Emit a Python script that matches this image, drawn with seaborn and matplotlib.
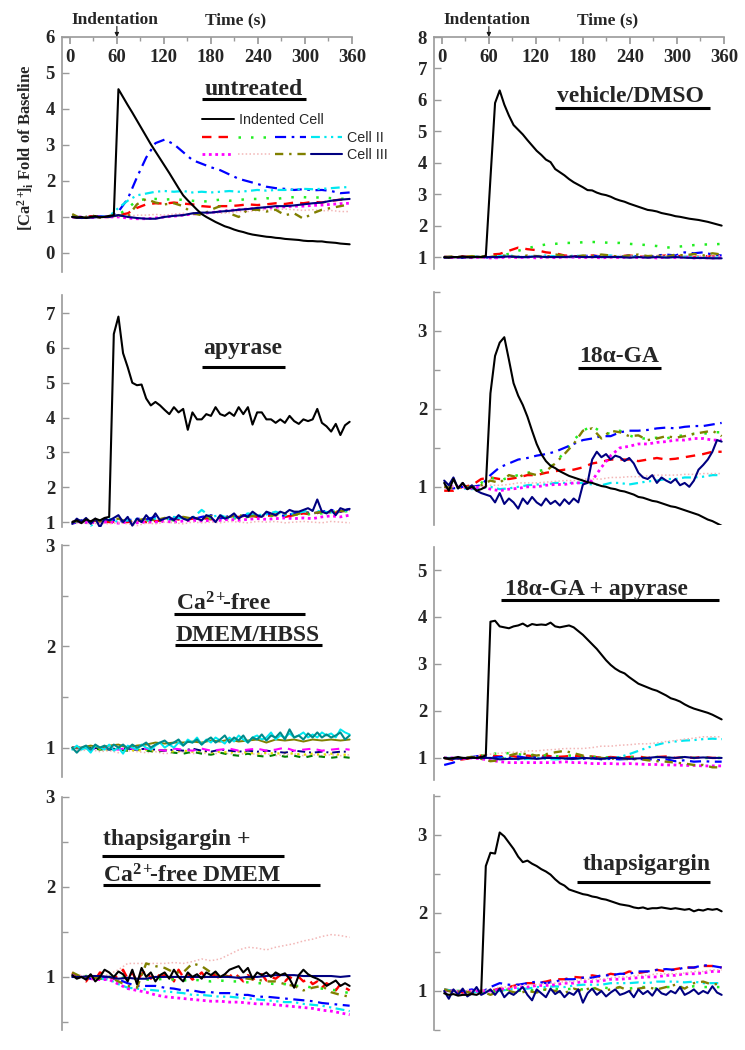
import numpy as np
import seaborn as sns
import matplotlib.pyplot as plt
from matplotlib.lines import Line2D
from matplotlib.legend_handler import HandlerTuple
from matplotlib.ticker import MultipleLocator

# ---- data: fold of baseline ----
# black / navy / noisy traces sampled every ~6 s (61 pts), others every ~12 s (31 pts)

untreated_black = [1.0, 0.98, 1.0, 0.97, 1.0, 1.02, 0.99, 1.0, 1.03, 1.05,
                   4.55, 4.33, 4.11, 3.9, 3.68, 3.46, 3.24, 3.02, 2.82, 2.62,
                   2.42, 2.22, 2.01, 1.80, 1.6, 1.46, 1.33, 1.2, 1.08, 1.0,
                   0.93, 0.86, 0.8, 0.74, 0.7, 0.65, 0.61, 0.58, 0.54, 0.51,
                   0.49, 0.47, 0.45, 0.44, 0.42, 0.41, 0.39, 0.38, 0.37, 0.36,
                   0.34, 0.33, 0.33, 0.32, 0.32, 0.3, 0.29, 0.28, 0.26, 0.25, 0.24]
untreated_red = [1.0, 0.98, 1.02, 1.0, 1.0, 1.05, 1.1, 1.25, 1.35, 1.38, 1.37, 1.4, 1.37, 1.35, 1.3, 1.28,
                 1.3, 1.3, 1.32, 1.35, 1.33, 1.35, 1.38, 1.36, 1.4, 1.38, 1.42, 1.4, 1.45, 1.48, 1.5]
untreated_green = [1.02, 1.0, 0.98, 1.0, 1.02, 1.05, 1.25, 1.45, 1.5, 1.5, 1.48, 1.5, 1.47, 1.45, 1.42, 1.45,
                   1.48, 1.45, 1.47, 1.5, 1.5, 1.52, 1.5, 1.53, 1.55, 1.55, 1.53, 1.55, 1.52, 1.5, 1.52]
untreated_blue = [1.0, 0.98, 1.0, 1.02, 1.0, 1.15, 1.5, 2.1, 2.65, 3.05, 3.15, 3.02, 2.8, 2.58, 2.48, 2.38,
                  2.3, 2.18, 2.06, 1.99, 1.92, 1.84, 1.8, 1.78, 1.75, 1.77, 1.74, 1.75, 1.72, 1.66, 1.68]
untreated_cyan = [1.0, 1.0, 1.0, 1.0, 1.02, 1.25, 1.45, 1.6, 1.65, 1.7, 1.72, 1.7, 1.72, 1.68, 1.7, 1.68,
                  1.7, 1.72, 1.7, 1.72, 1.75, 1.73, 1.75, 1.75, 1.76, 1.78, 1.77, 1.78, 1.8, 1.82, 1.83]
untreated_magenta = [1.0, 1.0, 0.98, 1.0, 1.0, 1.0, 0.97, 0.95, 0.95, 0.97, 1.0, 1.02, 1.05, 1.08, 1.1, 1.12,
                     1.15, 1.18, 1.2, 1.22, 1.24, 1.25, 1.27, 1.28, 1.3, 1.3, 1.32, 1.33, 1.35, 1.37, 1.38]
untreated_pink = [1.0, 1.0, 1.0, 0.98, 1.0, 1.02, 1.02, 1.05, 1.05, 1.07, 1.05, 1.08, 1.1, 1.08, 1.1, 1.12,
                  1.1, 1.12, 1.15, 1.15, 1.18, 1.2, 1.2, 1.22, 1.2, 1.18, 1.2, 1.17, 1.18, 1.15, 1.15]
untreated_olive = [1.08, 0.95, 1.05, 0.98, 1.0, 1.05, 1.0, 1.35, 1.5, 1.4, 1.35, 1.38, 1.3, 1.1, 1.05, 1.2,
                   1.3, 1.1, 1.0, 1.2, 1.2, 1.15, 1.2, 1.05, 1.1, 0.95, 1.1, 1.2, 1.25, 1.3, 1.35]
untreated_navy = [1.0, 0.97, 0.98, 1.0, 1.0, 1.05, 1.0, 0.97, 0.95, 0.95, 1.0, 1.03, 1.05, 1.1, 1.12, 1.12,
                  1.15, 1.17, 1.2, 1.22, 1.25, 1.27, 1.3, 1.3, 1.32, 1.35, 1.38, 1.4, 1.45, 1.48, 1.5]

vehicle_black = [1.0, 0.98, 1.0, 1.0, 1.02, 1.0, 0.99, 1.01, 1.0, 1.03,
                 3.5, 5.9, 6.3, 5.85, 5.5, 5.2, 5.05, 4.9, 4.72, 4.55,
                 4.38, 4.25, 4.1, 4.02, 3.8, 3.7, 3.6, 3.48, 3.38, 3.3,
                 3.22, 3.13, 3.12, 3.05, 3.0, 2.97, 2.92, 2.85, 2.8, 2.76,
                 2.7, 2.65, 2.6, 2.55, 2.5, 2.48, 2.45, 2.4, 2.37, 2.34,
                 2.3, 2.28, 2.25, 2.22, 2.2, 2.18, 2.15, 2.12, 2.08, 2.04, 2.0]
vehicle_red = [1.0, 1.0, 1.02, 1.0, 1.0, 1.08, 1.1, 1.2, 1.3, 1.25, 1.22, 1.15, 1.12, 1.05, 1.03, 1.02,
               1.05, 1.02, 1.0, 1.03, 1.05, 1.02, 1.0, 1.03, 1.05, 1.02, 1.05, 1.0, 1.03, 1.02, 1.0]
vehicle_green = [1.0, 0.98, 1.0, 1.0, 1.02, 1.0, 1.05, 1.1, 1.2, 1.28, 1.35, 1.4, 1.42, 1.45, 1.45, 1.47,
                 1.48, 1.47, 1.45, 1.45, 1.42, 1.4, 1.38, 1.35, 1.3, 1.32, 1.35, 1.38, 1.4, 1.4, 1.42]
vehicle_blue = [1.0, 1.0, 0.98, 1.0, 1.0, 0.98, 1.0, 1.02, 1.0, 1.0, 1.03, 1.0, 1.02, 1.0, 1.0, 1.03,
                1.05, 1.0, 1.02, 1.0, 1.05, 1.02, 1.0, 1.05, 1.08, 1.05, 1.15, 1.12, 1.15, 1.08, 1.05]
vehicle_cyan = [1.0, 1.0, 1.0, 1.02, 1.0, 1.0, 1.03, 1.05, 1.02, 1.0, 1.03, 1.05, 1.02, 1.0, 1.05, 1.03,
                1.0, 1.02, 1.05, 1.0, 1.02, 1.0, 1.0, 1.02, 1.0, 1.0, 1.02, 1.0, 1.0, 0.98, 1.0]
vehicle_magenta = [1.0, 0.98, 1.0, 0.98, 1.0, 0.97, 0.98, 1.0, 0.98, 1.0, 0.97, 1.0, 0.98, 1.0, 1.0, 0.98,
                   1.0, 0.97, 1.0, 0.98, 1.0, 0.98, 1.0, 0.97, 1.0, 0.98, 1.0, 0.97, 0.98, 0.97, 0.98]
vehicle_pink = [1.0, 1.0, 1.02, 1.0, 1.0, 1.02, 1.0, 1.02, 1.03, 1.0, 1.02, 1.03, 1.0, 1.02, 1.0, 1.03,
                1.02, 1.0, 1.03, 1.05, 1.02, 1.0, 1.03, 1.02, 1.05, 1.03, 1.05, 1.03, 1.05, 1.03, 1.05]
vehicle_olive = [1.0, 1.02, 1.0, 1.03, 1.0, 1.0, 1.05, 1.03, 1.0, 1.05, 1.03, 1.0, 1.08, 1.05, 1.0, 1.05,
                 1.03, 1.08, 1.05, 1.0, 1.05, 1.08, 1.03, 1.05, 1.0, 1.08, 1.05, 1.1, 1.05, 1.12, 1.08]
vehicle_navy = [0.98, 1.0, 0.98, 1.0, 1.0, 1.0, 1.0, 1.02, 1.0, 1.0, 1.02, 1.0, 1.0, 1.0, 1.02, 1.0,
                1.0, 1.0, 1.0, 1.0, 0.98, 1.0, 0.98, 1.0, 0.98, 1.0, 0.98, 0.97, 0.97, 0.96, 0.96]

apyrase_black = [1.0, 1.05, 0.97, 1.08, 1.02, 1.1, 1.05, 1.12, 1.15, 6.4,
                 6.9, 5.85, 5.45, 5.0, 4.93, 4.95, 4.55, 4.35, 4.45, 4.35,
                 4.22, 4.1, 4.3, 4.15, 4.25, 3.65, 4.15, 3.95, 3.95, 4.1,
                 4.05, 4.3, 4.1, 4.05, 4.15, 4.05, 4.3, 4.1, 4.3, 3.8,
                 4.15, 4.15, 3.95, 3.95, 3.85, 3.95, 3.85, 4.05, 3.9, 3.82,
                 3.95, 3.9, 3.95, 4.25, 3.85, 3.75, 3.6, 3.82, 3.5, 3.78, 3.88]
apyrase_red = [1.0, 1.05, 1.02, 1.05, 1.0, 1.02, 1.0, 1.05, 1.0, 1.03, 1.05, 1.1, 1.05, 1.1, 1.12, 1.08,
               1.15, 1.1, 1.15, 1.2, 1.15, 1.18, 1.2, 1.15, 1.2, 1.25, 1.22, 1.3, 1.25, 1.3, 1.35]
apyrase_green = [1.0, 1.03, 1.0, 1.02, 1.05, 1.0, 1.02, 1.0, 1.05, 1.03, 1.08, 1.05, 1.1, 1.08, 1.12, 1.1,
                 1.15, 1.12, 1.1, 1.15, 1.18, 1.15, 1.2, 1.18, 1.22, 1.2, 1.25, 1.25, 1.3, 1.3, 1.32]
apyrase_blue = [0.95, 1.05, 1.0, 1.05, 1.1, 1.02, 1.05, 1.1, 1.08, 1.15, 1.05, 1.1, 1.12, 1.08, 1.15, 1.2,
                1.1, 1.18, 1.15, 1.22, 1.15, 1.25, 1.2, 1.18, 1.25, 1.3, 1.25, 1.3, 1.35, 1.3, 1.38]
apyrase_cyan = [1.0, 1.05, 0.9, 1.05, 1.1, 1.0, 1.05, 1.08, 1.0, 1.1, 1.05, 1.15, 1.1, 1.12, 1.35, 1.15,
                1.2, 1.1, 1.15, 1.25, 1.2, 1.22, 1.3, 1.2, 1.25, 1.3, 1.35, 1.3, 1.28, 1.3, 1.35]
apyrase_magenta = [1.0, 1.0, 0.98, 1.0, 1.0, 0.97, 1.0, 0.98, 1.0, 1.0, 1.02, 1.0, 1.03, 1.05, 1.03, 1.05,
                   1.05, 1.08, 1.05, 1.08, 1.1, 1.08, 1.1, 1.12, 1.1, 1.12, 1.1, 1.15, 1.18, 1.15, 1.2]
apyrase_pink = [0.95, 0.98, 0.95, 0.97, 0.95, 0.98, 0.95, 0.9, 0.97, 0.95, 1.0, 0.98, 0.95, 1.0, 0.98, 1.0,
                0.98, 1.02, 1.0, 0.98, 1.02, 1.0, 1.02, 0.98, 1.0, 1.02, 1.0, 0.98, 1.02, 1.0, 0.98]
apyrase_olive = [1.0, 1.05, 1.08, 1.02, 1.05, 1.1, 1.0, 1.05, 1.1, 1.05, 1.12, 1.08, 1.15, 1.1, 1.12, 1.18,
                 1.12, 1.15, 1.2, 1.15, 1.2, 1.18, 1.22, 1.25, 1.2, 1.28, 1.25, 1.3, 1.28, 1.32, 1.3]
apyrase_navy = [0.95, 1.1, 1.0, 1.12, 0.95, 1.1, 0.85, 1.1, 1.05, 1.12,
                1.2, 1.0, 1.15, 0.9, 1.1, 1.0, 1.2, 1.05, 1.25, 1.05,
                1.1, 1.15, 1.05, 1.2, 1.1, 1.05, 1.15, 1.1, 1.05, 1.2,
                1.15, 1.0, 1.2, 1.1, 1.15, 1.25, 1.1, 1.2, 1.15, 1.3,
                1.2, 1.15, 1.3, 1.25, 1.2, 1.3, 1.25, 1.35, 1.3, 1.3,
                1.35, 1.4, 1.32, 1.65, 1.3, 1.25, 1.35, 1.2, 1.4, 1.35, 1.38]

ga_black = [1.05, 0.95, 1.1, 0.98, 1.05, 0.97, 1.0, 0.95, 0.97, 1.0,
            2.2, 2.68, 2.85, 2.92, 2.63, 2.33, 2.17, 2.05, 1.9, 1.72,
            1.55, 1.42, 1.33, 1.27, 1.24, 1.2, 1.17, 1.14, 1.12, 1.1,
            1.08, 1.06, 1.05, 1.03, 1.01, 1.0, 0.98, 0.97, 0.95, 0.94,
            0.92, 0.9, 0.87, 0.86, 0.84, 0.82, 0.81, 0.79, 0.77, 0.75,
            0.74, 0.72, 0.7, 0.68, 0.66, 0.64, 0.61, 0.58, 0.56, 0.53, 0.5]
ga_red = [0.95, 0.95, 1.0, 1.02, 1.1, 1.12, 1.1, 1.1, 1.12, 1.15, 1.15, 1.18, 1.2, 1.22, 1.22, 1.25,
          1.3, 1.32, 1.35, 1.35, 1.35, 1.33, 1.35, 1.37, 1.35, 1.36, 1.38, 1.4, 1.42, 1.45, 1.45]
ga_green = [1.0, 1.0, 0.98, 1.0, 1.05, 1.12, 1.08, 1.12, 1.15, 1.18, 1.2, 1.22, 1.3, 1.45, 1.6, 1.72,
            1.78, 1.7, 1.68, 1.72, 1.66, 1.62, 1.62, 1.63, 1.62, 1.65, 1.66, 1.68, 1.68, 1.7, 1.7]
ga_blue = [1.0, 0.98, 1.0, 1.0, 1.02, 1.15, 1.25, 1.3, 1.35, 1.37, 1.4, 1.42, 1.45, 1.5, 1.55, 1.6,
           1.62, 1.65, 1.65, 1.7, 1.72, 1.72, 1.73, 1.75, 1.76, 1.75, 1.77, 1.78, 1.78, 1.8, 1.82]
ga_cyan = [1.0, 1.0, 0.98, 0.97, 0.98, 1.0, 0.97, 0.98, 1.0, 1.02, 1.03, 1.03, 1.05, 1.05, 1.05, 1.05,
           1.03, 1.02, 1.05, 1.05, 1.03, 1.05, 1.07, 1.08, 1.1, 1.1, 1.12, 1.12, 1.13, 1.15, 1.15]
ga_magenta = [1.0, 1.0, 1.0, 0.98, 1.0, 0.97, 0.95, 0.97, 0.98, 1.0, 1.0, 1.02, 1.03, 1.03, 1.05, 1.05,
              1.08, 1.25, 1.4, 1.5, 1.52, 1.55, 1.55, 1.57, 1.58, 1.6, 1.6, 1.62, 1.62, 1.6, 1.6]
ga_pink = [1.0, 1.0, 1.0, 1.0, 1.0, 1.02, 1.02, 1.03, 1.05, 1.05, 1.05, 1.06, 1.07, 1.08, 1.08, 1.1,
           1.1, 1.1, 1.12, 1.12, 1.13, 1.13, 1.14, 1.15, 1.15, 1.15, 1.16, 1.16, 1.17, 1.17, 1.17]
ga_olive = [1.0, 0.98, 1.0, 1.0, 1.02, 1.08, 1.05, 1.15, 1.12, 1.18, 1.15, 1.2, 1.3, 1.42, 1.55, 1.72,
            1.75, 1.62, 1.72, 1.7, 1.65, 1.66, 1.6, 1.62, 1.65, 1.63, 1.65, 1.68, 1.7, 1.72, 1.65]
ga_navy = [1.08, 1.02, 1.12, 0.98, 1.05, 0.97, 1.02, 0.95, 0.92, 0.9,
           0.88, 0.8, 0.92, 0.78, 0.85, 0.8, 0.72, 0.85, 0.78, 0.87,
           0.8, 0.76, 0.85, 0.78, 0.82, 0.76, 0.84, 0.78, 0.85, 0.8,
           1.03, 1.05, 1.35, 1.45, 1.38, 1.42, 1.35, 1.4, 1.38, 1.33,
           1.37, 1.3, 1.18, 1.12, 1.1, 1.15, 1.05, 1.12, 1.08, 1.05,
           1.1, 1.02, 1.05, 1.0, 1.08, 1.22, 1.28, 1.35, 1.45, 1.6, 1.58]

cafree_teal = [1.0, 0.95, 1.0, 1.02, 0.98, 1.03, 1.0, 1.02, 0.98, 1.03,
               1.0, 1.03, 0.99, 1.03, 1.0, 1.02, 1.05, 1.0, 1.03, 1.05,
               1.07, 1.03, 1.05, 1.08, 1.02, 1.06, 1.05, 1.08, 1.03, 1.07,
               1.1, 1.05, 1.08, 1.12, 1.05, 1.1, 1.07, 1.12, 1.05, 1.1,
               1.08, 1.13, 1.07, 1.12, 1.1, 1.15, 1.08, 1.18, 1.1, 1.12,
               1.08, 1.14, 1.1, 1.15, 1.1, 1.13, 1.1, 1.12, 1.15, 1.08, 1.12]
cafree_cyan = [0.98, 1.02, 0.98, 1.0, 0.95, 1.02, 1.0, 0.98, 1.03, 0.97,
               1.0, 0.94, 1.02, 1.0, 0.98, 1.03, 1.0, 0.98, 1.02, 1.05,
               1.0, 1.03, 1.0, 1.05, 1.02, 1.08, 1.05, 1.1, 1.03, 1.08,
               1.05, 1.1, 1.07, 1.04, 1.1, 1.06, 1.12, 1.08, 1.05, 1.1,
               1.12, 1.08, 1.1, 1.15, 1.08, 1.12, 1.1, 1.14, 1.1, 1.12,
               1.15, 1.1, 1.13, 1.1, 1.15, 1.12, 1.14, 1.1, 1.18, 1.15, 1.13]
cafree_olive = [1.0, 1.0, 1.02, 1.0, 1.02, 1.03, 1.0, 1.02, 1.03, 1.05, 1.04, 1.05, 1.05, 1.06, 1.05, 1.07,
                1.06, 1.08, 1.06, 1.07, 1.08, 1.05, 1.08, 1.07, 1.08, 1.06, 1.08, 1.07, 1.08, 1.07, 1.08]
cafree_magenta = [1.0, 1.0, 0.98, 1.0, 0.99, 0.98, 1.0, 0.98, 0.99, 0.98, 0.97, 0.99, 0.98, 0.97, 0.99, 0.97,
                  0.98, 0.99, 0.97, 0.98, 0.99, 0.97, 0.98, 1.0, 0.97, 0.98, 0.99, 0.97, 0.98, 0.99, 0.98]
cafree_navy = [1.0, 1.0, 0.99, 1.0, 0.98, 1.0, 0.99, 0.98, 0.99, 0.98, 0.97, 0.98, 0.97, 0.99, 0.97, 0.96,
               0.98, 0.97, 0.96, 0.97, 0.96, 0.97, 0.96, 0.95, 0.97, 0.96, 0.95, 0.96, 0.95, 0.96, 0.96]
cafree_green = [1.0, 0.99, 1.0, 0.98, 0.99, 0.98, 0.97, 0.98, 0.97, 0.96, 0.97, 0.95, 0.94, 0.96, 0.94, 0.93,
                0.95, 0.93, 0.92, 0.94, 0.92, 0.91, 0.93, 0.91, 0.92, 0.9, 0.92, 0.91, 0.9, 0.91, 0.9]
cafree_pink = [0.98, 0.97, 0.98, 0.96, 0.97, 0.95, 0.97, 0.96, 0.95, 0.96, 0.94, 0.95, 0.96, 0.94, 0.95, 0.93,
               0.95, 0.94, 0.93, 0.95, 0.93, 0.94, 0.92, 0.93, 0.94, 0.92, 0.93, 0.92, 0.93, 0.92, 0.93]
cafree_yellow = [1.0, 0.99, 1.0, 0.99, 0.98, 0.99, 0.98, 0.97, 0.98, 0.97, 0.98, 0.96, 0.97, 0.96, 0.97, 0.95,
                 0.96, 0.95, 0.96, 0.95, 0.94, 0.95, 0.94, 0.95, 0.94, 0.93, 0.94, 0.93, 0.94, 0.93, 0.93]

gaapy_black = [1.0, 0.98, 1.0, 1.02, 1.0, 0.99, 1.01, 1.0, 1.02, 1.05,
               3.9, 3.92, 3.8, 3.78, 3.76, 3.8, 3.82, 3.86, 3.8, 3.85,
               3.83, 3.84, 3.83, 3.88, 3.8, 3.78, 3.8, 3.82, 3.78, 3.7,
               3.62, 3.52, 3.42, 3.32, 3.2, 3.08, 2.98, 2.9, 2.84, 2.8,
               2.72, 2.65, 2.58, 2.54, 2.5, 2.46, 2.43, 2.38, 2.33, 2.27,
               2.24, 2.2, 2.14, 2.09, 2.05, 2.02, 1.99, 1.96, 1.92, 1.87, 1.82]
gaapy_red = [1.0, 0.95, 0.97, 1.0, 1.05, 1.05, 1.03, 1.05, 1.02, 1.05, 1.03, 1.05, 1.02, 1.03, 1.05, 1.02,
             1.03, 1.0, 1.02, 1.0, 1.02, 1.03, 1.0, 1.02, 1.03, 1.0, 1.02, 1.0, 1.02, 1.0, 1.0]
gaapy_green = [1.0, 0.98, 1.0, 1.02, 1.05, 1.08, 1.1, 1.1, 1.08, 1.05, 1.07, 1.05, 1.03, 1.05, 1.05, 1.02,
               1.03, 1.0, 1.02, 1.0, 1.02, 1.0, 1.0, 1.02, 1.0, 1.0, 1.02, 1.0, 1.0, 1.0, 1.0]
gaapy_blue = [0.85, 0.9, 1.0, 1.02, 1.05, 1.0, 1.02, 1.0, 1.03, 1.0, 1.02, 1.0, 1.0, 0.98, 1.0, 0.98,
              1.0, 0.97, 0.98, 0.97, 0.98, 0.97, 0.98, 0.95, 0.97, 0.93, 0.95, 0.92, 0.93, 0.92, 0.92]
gaapy_cyan = [1.0, 1.0, 0.98, 1.0, 1.0, 1.0, 0.98, 1.0, 0.97, 0.98, 1.0, 0.98, 0.97, 0.98, 0.97, 1.0,
              0.98, 0.98, 1.0, 1.02, 1.08, 1.15, 1.22, 1.28, 1.33, 1.35, 1.37, 1.38, 1.4, 1.41, 1.4]
gaapy_magenta = [1.0, 1.0, 0.98, 1.0, 0.98, 0.95, 0.92, 0.9, 0.9, 0.9, 0.9, 0.9, 0.9, 0.92, 0.9, 0.9,
                 0.88, 0.88, 0.88, 0.87, 0.88, 0.87, 0.86, 0.86, 0.85, 0.85, 0.84, 0.84, 0.83, 0.83, 0.83]
gaapy_pink = [1.0, 1.0, 1.0, 1.02, 1.05, 1.08, 1.1, 1.12, 1.12, 1.15, 1.15, 1.17, 1.18, 1.2, 1.2, 1.2,
              1.22, 1.25, 1.25, 1.27, 1.28, 1.3, 1.3, 1.32, 1.35, 1.37, 1.4, 1.42, 1.45, 1.45, 1.45]
gaapy_olive = [1.0, 0.97, 1.0, 1.02, 0.98, 0.93, 0.95, 1.05, 1.1, 1.08, 1.05, 1.08, 1.12, 1.15, 1.1, 1.05,
               1.03, 1.0, 0.98, 1.0, 0.97, 0.98, 0.95, 0.93, 0.92, 0.9, 0.88, 0.85, 0.85, 0.8, 0.8]
gaapy_navy = [1.0, 0.98, 1.0, 1.0, 1.0, 1.0, 0.97, 0.98, 0.98, 1.0, 0.98, 1.0, 1.0, 0.99, 0.98, 1.0,
              0.99, 0.98, 1.0, 1.0, 0.98, 0.99, 1.0, 1.02, 1.01, 1.0, 1.02, 1.0, 1.01, 1.0, 1.0]

tgca_black = [1.02, 0.98, 1.0, 0.97, 1.03, 0.95, 1.0, 1.08, 1.05, 1.0,
              1.06, 1.03, 0.95, 1.08, 0.92, 1.1, 1.0, 1.05, 0.95, 1.02,
              1.05, 0.98, 1.08, 1.0, 0.95, 1.05, 1.0, 1.03, 0.98, 1.05,
              1.02, 1.06, 1.0, 1.03, 1.08, 1.1, 1.12, 1.05, 1.1, 0.98,
              1.05, 1.02, 1.05, 1.0, 1.05, 1.02, 1.04, 0.98, 0.88, 1.02,
              1.08, 1.03, 1.0, 0.98, 0.95, 0.9, 0.93, 0.96, 0.9, 0.93, 0.9]
tgca_red = [1.05, 1.0, 0.98, 0.95, 1.02, 0.97, 1.05, 1.03, 1.0, 0.98,
            1.02, 1.08, 0.98, 1.05, 0.95, 1.03, 1.08, 0.98, 1.05, 1.0,
            1.02, 1.05, 0.95, 1.08, 1.0, 1.03, 0.97, 1.0, 1.05, 0.98,
            1.0, 1.03, 0.97, 1.02, 1.0, 1.05, 1.0, 0.95, 1.02, 0.97,
            1.0, 1.03, 0.96, 1.0, 0.98, 1.02, 0.95, 1.0, 0.97, 1.0,
            0.95, 0.98, 0.92, 0.95, 0.88, 0.93, 0.9, 0.85, 0.92, 0.88, 0.85]
tgca_green = [1.02, 1.0, 1.02, 1.0, 1.0, 1.0, 0.98, 0.98, 0.97, 0.97, 0.98, 0.97, 0.96, 0.97, 0.96, 0.95,
              0.96, 0.95, 0.95, 0.94, 0.93, 0.93, 0.92, 0.92, 0.9, 0.9, 0.88, 0.87, 0.86, 0.84, 0.82]
tgca_blue = [1.0, 1.0, 0.98, 0.98, 1.0, 0.97, 0.93, 0.9, 0.9, 0.9, 0.88, 0.87, 0.85, 0.85, 0.83, 0.83,
             0.82, 0.82, 0.8, 0.8, 0.78, 0.78, 0.77, 0.76, 0.75, 0.74, 0.73, 0.71, 0.7, 0.69, 0.68]
tgca_cyan = [1.0, 1.0, 0.98, 0.98, 0.97, 0.92, 0.88, 0.87, 0.86, 0.85, 0.84, 0.83, 0.82, 0.8, 0.8, 0.79,
             0.78, 0.78, 0.77, 0.76, 0.75, 0.74, 0.73, 0.72, 0.72, 0.7, 0.69, 0.68, 0.66, 0.64, 0.62]
tgca_magenta = [1.02, 1.0, 0.98, 0.97, 0.97, 0.92, 0.87, 0.85, 0.83, 0.8, 0.78, 0.77, 0.76, 0.75, 0.74, 0.73,
                0.73, 0.72, 0.72, 0.71, 0.7, 0.7, 0.69, 0.68, 0.67, 0.66, 0.65, 0.63, 0.62, 0.6, 0.58]
tgca_pink = [1.0, 1.02, 1.0, 1.0, 1.03, 1.08, 1.15, 1.15, 1.15, 1.15, 1.15, 1.16, 1.15, 1.17, 1.2, 1.18,
             1.2, 1.25, 1.3, 1.33, 1.32, 1.3, 1.33, 1.35, 1.37, 1.4, 1.42, 1.45, 1.47, 1.46, 1.44]
tgca_olive = [1.05, 1.0, 1.0, 0.98, 1.0, 0.95, 0.9, 0.88, 1.15, 1.12, 1.1, 1.05, 1.05, 1.15, 1.12, 1.05,
              1.02, 1.0, 1.0, 0.98, 0.97, 0.95, 0.95, 0.92, 0.9, 0.85, 0.88, 0.9, 0.83, 0.8, 0.78]
tgca_navy = [1.0, 1.0, 1.01, 1.01, 1.0, 0.98, 0.99, 0.98, 0.98, 1.0, 1.0, 1.0, 1.0, 1.0, 1.0, 1.0,
             1.0, 1.0, 0.99, 1.0, 1.0, 1.01, 1.02, 1.02, 1.02, 1.01, 1.01, 1.01, 1.01, 1.0, 1.01]

tg_black = [0.97, 0.95, 0.96, 0.94, 0.95, 0.95, 0.96, 0.95, 0.98, 2.6,
            2.77, 2.76, 3.03, 2.98, 2.9, 2.82, 2.72, 2.65, 2.67, 2.63,
            2.6, 2.56, 2.53, 2.49, 2.43, 2.38, 2.35, 2.3, 2.28, 2.26,
            2.24, 2.23, 2.21, 2.2, 2.18, 2.17, 2.15, 2.13, 2.11, 2.1,
            2.09, 2.07, 2.06, 2.07, 2.05, 2.06, 2.06, 2.07, 2.06, 2.05,
            2.06, 2.05, 2.04, 2.05, 2.02, 2.04, 2.03, 2.05, 2.04, 2.05, 2.02]
tg_red = [1.02, 1.0, 0.98, 1.0, 1.0, 1.0, 1.03, 1.05, 1.08, 1.1, 1.1, 1.12, 1.15, 1.15, 1.18, 1.17,
          1.2, 1.18, 1.22, 1.2, 1.25, 1.23, 1.25, 1.27, 1.25, 1.28, 1.3, 1.3, 1.32, 1.32, 1.3]
tg_green = [1.0, 1.0, 1.0, 0.98, 0.97, 1.0, 1.0, 1.02, 1.0, 1.02, 1.0, 1.02, 1.03, 1.02, 1.03, 1.02,
            1.03, 1.05, 1.03, 1.05, 1.03, 1.05, 1.05, 1.03, 1.05, 1.05, 1.05, 1.06, 1.05, 1.05, 1.05]
tg_blue = [1.0, 1.0, 1.0, 1.02, 0.98, 1.05, 1.1, 1.08, 1.08, 1.1, 1.12, 1.1, 1.12, 1.15, 1.15, 1.17,
           1.17, 1.2, 1.2, 1.22, 1.22, 1.25, 1.25, 1.27, 1.28, 1.27, 1.3, 1.3, 1.33, 1.32, 1.3]
tg_cyan = [1.02, 1.0, 1.0, 0.98, 1.0, 1.0, 1.0, 1.02, 1.03, 1.03, 1.05, 1.05, 1.06, 1.05, 1.07, 1.08,
           1.08, 1.08, 1.1, 1.1, 1.1, 1.11, 1.1, 1.12, 1.12, 1.12, 1.11, 1.12, 1.1, 1.1, 1.1]
tg_magenta = [1.0, 1.0, 0.98, 1.0, 1.0, 1.0, 1.02, 1.03, 1.05, 1.05, 1.07, 1.07, 1.08, 1.1, 1.1, 1.12,
              1.12, 1.13, 1.15, 1.15, 1.16, 1.17, 1.18, 1.18, 1.2, 1.2, 1.22, 1.22, 1.23, 1.25, 1.25]
tg_pink = [1.0, 1.0, 1.02, 1.0, 1.0, 1.02, 1.05, 1.05, 1.07, 1.08, 1.08, 1.1, 1.1, 1.12, 1.12, 1.15,
           1.15, 1.15, 1.17, 1.18, 1.18, 1.2, 1.2, 1.22, 1.22, 1.22, 1.23, 1.25, 1.25, 1.27, 1.27]
tg_olive = [1.02, 0.98, 1.0, 0.97, 1.0, 0.95, 1.0, 1.0, 0.97, 1.0, 0.98, 1.02, 1.0, 0.97, 1.03, 1.0,
            1.05, 1.0, 1.02, 1.05, 1.0, 1.03, 1.05, 1.02, 1.05, 1.08, 1.03, 1.1, 1.12, 1.08, 1.1]
tg_navy = [1.0, 0.9, 1.02, 0.95, 1.03, 0.93, 0.97, 1.05, 0.95, 0.98,
           1.02, 0.95, 1.03, 0.92, 0.98, 0.95, 1.0, 1.05, 0.95, 0.88,
           1.02, 0.97, 0.92, 1.03, 0.96, 1.0, 0.92, 0.98, 0.95, 1.02,
           0.85, 0.97, 1.03, 0.95, 1.0, 0.93, 0.98, 1.02, 0.95, 0.97,
           1.0, 0.92, 1.02, 0.96, 1.0, 0.94, 1.03, 0.97, 0.95, 1.0,
           0.97, 1.05, 0.95, 0.98, 1.02, 0.96, 1.0, 0.97, 1.06, 0.98, 0.95]

# ---- line styles ----
STYLES = {
    'black':   dict(color='black',   ls='-',                      lw=1.5),
    'red':     dict(color='#ff0000', ls=(0, (4, 3)),              lw=1.7),
    'green':   dict(color='#22ee22', ls=(0, (1, 4)),              lw=1.8),
    'blue':    dict(color='#0000ff', ls=(0, (5, 2.5, 1.2, 2.5)),  lw=1.6),
    'cyan':    dict(color='#00e8f0', ls=(0, (4, 2, 1, 2, 1, 2)), lw=1.6),
    'magenta': dict(color='#ff00ff', ls=(0, (1, 1.3)),            lw=2.0),
    'pink':    dict(color='#f2b6b6', ls=(0, (1, 1.5)),            lw=1.1),
    'olive':   dict(color='#808000', ls=(0, (3.5, 2.5, 1, 2.5)),  lw=1.7),
    'navy':    dict(color='#000080', ls='-',                      lw=1.5),
    'teal':    dict(color='#008b8b', ls='-',                      lw=1.5),
    'cyan_s':  dict(color='#00e8f0', ls='-',                      lw=1.4),
    'olive_s': dict(color='#808000', ls='-',                      lw=1.4),
    'mag_d':   dict(color='#ff00ff', ls=(0, (4, 3)),              lw=1.5),
    'navy_dd': dict(color='#000080', ls=(0, (4, 2, 1, 2)),        lw=1.4),
    'green_d': dict(color='#008000', ls=(0, (3, 3)),              lw=1.5),
    'yellow':  dict(color='#e0e000', ls=(0, (1, 2)),              lw=1.6),
}

def std(prefix):
    g = globals()
    keys = ['red', 'green', 'blue', 'cyan', 'magenta', 'pink', 'olive', 'navy', 'black']
    return {k: g[f'{prefix}_{k}'] for k in keys}

CA = 'Ca$^{2+}\\!\\!$'

# (column, top px, bottom px, ylim, minor ticks, series, titles)
# titles: (text, x, y, ha, underline x0, x1, y)   -- axes fractions
panels = [
    (0, 37, 272, (-0.53, 6.0), False, std('untreated'),
     [('untreated', 0.662, 0.755, 'center', 0.483, 0.841, 0.738)]),
    (1, 37, 269, (0.62, 8.0), False, std('vehicle'),
     [('vehicle/DMSO', 0.679, 0.72, 'center', 0.417, 0.952, 0.694)]),
    (0, 295, 527, (0.86, 7.52), False, std('apyrase'),
     [('apyrase', 0.624, 0.745, 'center', 0.483, 0.769, 0.69)]),
    (1, 292, 525, (0.51, 3.5), True, std('ga'),
     [('18\u03b1-GA', 0.638, 0.70, 'center', 0.497, 0.783, 0.674)]),
    (0, 545, 777, (0.71, 3.0), True,
     {'pink': cafree_pink, 'green_d': cafree_green, 'yellow': cafree_yellow, 'navy_dd': cafree_navy,
      'mag_d': cafree_magenta, 'olive_s': cafree_olive, 'cyan_s': cafree_cyan, 'teal': cafree_teal},
     [(CA + '-free', 0.393, 0.716, 'left', 0.386, 0.838, 0.703),
      ('DMEM/HBSS', 0.393, 0.586, 'left', 0.39, 0.897, 0.569)]),
    (1, 547, 780, (0.53, 5.49), False, std('gaapy'),
     [('18\u03b1-GA + apyrase', 0.559, 0.795, 'center', 0.231, 0.983, 0.773)]),
    (0, 797, 1030, (0.41, 3.0), True, std('tgca'),
     [('thapsigargin +', 0.141, 0.794, 'left', 0.138, 0.766, 0.747),
      (CA + '-free DMEM', 0.141, 0.635, 'left', 0.141, 0.89, 0.622)]),
    (1, 795, 1030, (0.5, 3.51), True, std('tg'),
     [('thapsigargin', 0.734, 0.681, 'center', 0.493, 0.952, 0.63)]),
]

# ---- style ----
sns.set_theme(style='white')
plt.rcParams['font.family'] = ['Liberation Serif', 'DejaVu Serif']
plt.rcParams['font.weight'] = 'bold'
plt.rcParams['axes.labelweight'] = 'bold'
plt.rcParams['mathtext.fontset'] = 'custom'
plt.rcParams['mathtext.rm'] = 'Liberation Serif:bold'
plt.rcParams['mathtext.it'] = 'Liberation Serif:bold:italic'
plt.rcParams['mathtext.bf'] = 'Liberation Serif:bold'

W, H = 745, 1050
GREY = '#9a9a9a'
fig = plt.figure(figsize=(W / 100, H / 100), dpi=100)

for col, top, bottom, ylim, minor, series, titles in panels:
    x0 = 62 if col == 0 else 434
    ax = fig.add_axes([x0 / W, 1 - bottom / H, 290 / W, (bottom - top) / H])

    for name, vals in series.items():
        st = STYLES[name]
        t = np.linspace(3, 357, len(vals))
        sns.lineplot(x=t, y=vals, ax=ax, color=st['color'], linestyle=st['ls'],
                     linewidth=st['lw'], legend=False)

    ax.set_xlim(-10, 360)
    ax.set_ylim(*ylim)
    ax.set_xlabel('')
    ax.set_ylabel('')
    header = top < 50
    ax.spines['right'].set_visible(False)
    ax.spines['bottom'].set_visible(False)
    ax.spines['top'].set_visible(header)
    for s in ['left', 'top']:
        ax.spines[s].set_color(GREY)
        ax.spines[s].set_linewidth(1.2)

    ax.yaxis.set_major_locator(MultipleLocator(1))
    if minor:
        ax.yaxis.set_minor_locator(MultipleLocator(0.5))
    ax.tick_params(axis='y', which='both', direction='in', left=True, right=False,
                   color=GREY, width=1.0, labelsize=13.5, pad=5)
    ax.tick_params(axis='y', which='major', length=5)
    ax.tick_params(axis='y', which='minor', length=4)

    if header:
        ax.xaxis.set_major_locator(MultipleLocator(60))
        ax.xaxis.set_minor_locator(MultipleLocator(30))
        ax.tick_params(axis='x', which='both', top=True, bottom=False, labeltop=True,
                       labelbottom=False, direction='in', color=GREY, labelsize=13.5, pad=-21)
        ax.tick_params(axis='x', which='major', length=5)
        ax.tick_params(axis='x', which='minor', length=3)
        xt = ax.get_xaxis_transform()
        ax.text(58, 1.072, 'Indentation', transform=xt, ha='center', va='center', fontsize=12.5)
        ax.text(212, 1.072, 'Time (s)', transform=xt, ha='center', va='center', fontsize=12.5)
        ax.annotate('', xy=(60, 1.0), xycoords=xt, xytext=(60, 1.045), textcoords=xt,
                    arrowprops=dict(arrowstyle='-|>', color='k', lw=0.8, mutation_scale=6,
                                    shrinkA=0, shrinkB=0))
    else:
        ax.set_xticks([])

    for text, tx, ty, ha, u0, u1, uy in titles:
        ax.text(tx, ty, text, transform=ax.transAxes, ha=ha, va='baseline', fontsize=17)
        ax.plot([u0, u1], [uy, uy], transform=ax.transAxes, color='black', lw=2.2,
                solid_capstyle='butt', clip_on=False)

    if col == 0 and header:
        ax.set_ylabel('[' + CA + ']$_\\mathrm{i}$ Fold of Baseline', fontsize=12, fontweight='bold')
        ax.yaxis.set_label_coords(-0.09, 0.53)

        prop = dict(family='Liberation Sans', weight='normal', size=10.3)
        leg1 = ax.legend([Line2D([], [], **{'color': 'black', 'lw': 1.4})], ['Indented Cell'],
                         loc='upper left', bbox_to_anchor=(0.483, 0.675), frameon=False,
                         handlelength=2.2, handletextpad=0.35, borderpad=0, borderaxespad=0, prop=prop)
        ax.add_artist(leg1)

        def h(name):
            st = STYLES[name]
            return Line2D([], [], color=st['color'], linestyle=st['ls'], lw=st['lw'])
        rows = [tuple(h(n) for n in ['red', 'green', 'blue', 'cyan']),
                tuple(h(n) for n in ['magenta', 'pink', 'olive', 'navy'])]
        ax.legend(rows, ['Cell II', 'Cell III'], handler_map={tuple: HandlerTuple(ndivide=None, pad=0.35)},
                  loc='upper left', bbox_to_anchor=(0.483, 0.60), frameon=False,
                  handlelength=9.8, handletextpad=0.35, labelspacing=0.2,
                  borderpad=0, borderaxespad=0, prop=prop)

fig.savefig('out.png', dpi=100)
